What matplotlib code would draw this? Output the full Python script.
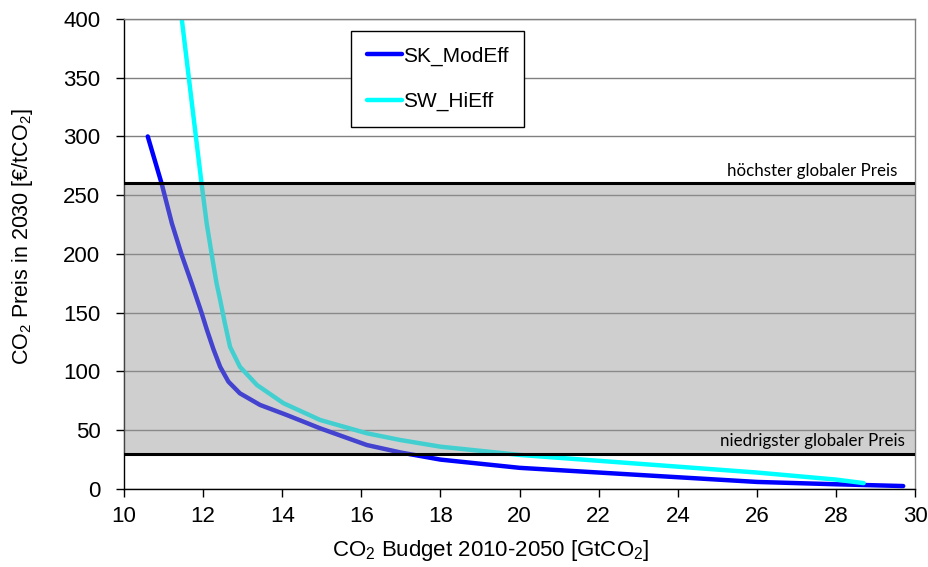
import matplotlib
matplotlib.use("Agg")
import matplotlib.pyplot as plt

# Data
sk_x = [10.6, 10.95, 11.21, 11.46, 11.71, 11.96, 12.09, 12.26, 12.43, 12.64, 12.93, 13.44, 14.11, 14.96,
        16.14, 17.0, 18, 20, 22, 24, 26, 28, 29.7]
sk_y = [300, 260, 226, 199, 175, 150, 136, 119, 104, 91.3, 81.4, 71.5, 63, 51.6,
        37.4, 31, 25, 18, 14, 10, 6, 4, 2.5]
sw_x = [11.46, 11.72, 11.96, 12.09, 12.22, 12.34, 12.43, 12.55, 12.68, 12.93, 13.36, 14.03, 14.96,
        16.14, 16.98, 18, 20, 22, 24, 26, 28, 28.7]
sw_y = [400, 327, 260, 226, 199, 175, 161, 141, 121, 104, 88.5, 73, 58.7,
        47.4, 41.7, 36, 29, 24, 19, 14, 8, 5]
price_high = 260
price_low = 30
xticks = list(range(10, 31, 2))
yticks = list(range(0, 401, 50))

font = "Liberation Sans"
plt.rcParams["mathtext.fontset"] = "custom"
plt.rcParams["mathtext.rm"] = font
plt.rcParams["mathtext.it"] = font

fig = plt.figure(figsize=(9.29, 5.67), dpi=100)
ax = fig.add_axes([0.1335, 0.1376, 0.8515, 0.829])

ax.set_xlim(10, 30)
ax.set_ylim(0, 400)
ax.set_xticks(xticks)
ax.set_yticks(yticks)
ax.grid(axis="y", color="#808080", linewidth=1.0, zorder=0)
ax.set_axisbelow(True)

l1, = ax.plot(sk_x, sk_y, color="#0000ff", linewidth=3.2, solid_capstyle="round",
              solid_joinstyle="round", zorder=2, label="SK_ModEff")
l2, = ax.plot(sw_x, sw_y, color="#00ffff", linewidth=3.2, solid_capstyle="round",
              solid_joinstyle="round", zorder=2, label="SW_HiEff")

ax.axhspan(price_low, price_high, color=(0.59, 0.59, 0.59), alpha=0.45, linewidth=0, zorder=3)
ax.axhline(price_high, color="black", linewidth=2.2, zorder=4)
ax.axhline(price_low, color="black", linewidth=2.2, zorder=4)

ax.text(29.55, price_high + 4, "höchster globaler Preis", ha="right", va="bottom",
        fontsize=12.2, family="Lato", zorder=5)
ax.text(29.75, price_low + 4, "niedrigster globaler Preis", ha="right", va="bottom",
        fontsize=12.2, family="Lato", zorder=5)

for s in ["top", "right"]:
    ax.spines[s].set_color("#808080")
    ax.spines[s].set_linewidth(1.0)
for s in ["left", "bottom"]:
    ax.spines[s].set_color("black")
    ax.spines[s].set_linewidth(1.0)
ax.tick_params(direction="out", length=6, width=1, labelsize=16)
ax.tick_params(axis="y", pad=11)
ax.tick_params(axis="x", pad=6)
for lab in ax.get_xticklabels() + ax.get_yticklabels():
    lab.set_family(font)

ax.set_xlabel("CO$_2$ Budget 2010-2050 [GtCO$_2$]", fontsize=16, family=font)
ax.set_ylabel("CO$_2$ Preis in 2030 [€/tCO$_2$]", fontsize=15.5, family=font)
ax.xaxis.set_label_coords(0.463, -0.130)
ax.xaxis.label.set_va("center")
ax.yaxis.set_label_coords(-0.128, 0.536)
ax.yaxis.label.set_va("center")

leg = ax.legend(handles=[l1, l2], loc="upper left", bbox_to_anchor=(0.287, 0.974),
                frameon=True, fancybox=False, edgecolor="black", framealpha=1,
                prop={"family": font, "size": 15}, handlelength=1.7, handletextpad=0.05,
                labelspacing=1.25, borderpad=0.75, borderaxespad=0)
leg.get_frame().set_linewidth(1.0)
leg.set_zorder(6)

fig.savefig("out.png", dpi=100)
